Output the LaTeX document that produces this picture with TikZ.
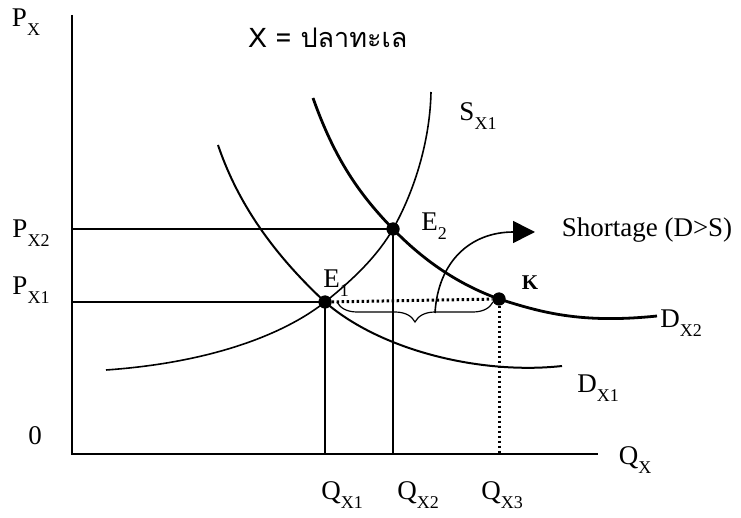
\documentclass[tikz,border=0pt]{standalone}
\usepackage{fontspec}
\setmainfont{Liberation Serif}
\newfontfamily\thaifont[Script=Thai]{Loma}
\usetikzlibrary{arrows.meta,decorations.pathreplacing}
\tikzset{
  lbl/.style={inner sep=0pt, font=\fontsize{27}{30}\selectfont},
  eqdot/.style={circle, fill=black, inner sep=0pt, minimum size=13pt},
  axis/.style={line width=2pt},
  curve/.style={line width=2pt},
  thickcurve/.style={line width=2.8pt},
  dotline/.style={line width=3pt, dash pattern=on 2.5pt off 2.5pt},
}
\newcommand{\sub}[1]{\raisebox{-0.35em}{\fontsize{18}{21}\selectfont #1}}
\begin{document}
\begin{tikzpicture}[x=1pt,y=-1pt]
\useasboundingbox (0,0) rectangle (741,518);
% axes
\coordinate (O) at (72,454);
\coordinate (Ytop) at (72,15);
\coordinate (Xend) at (598,454);
\draw[axis] (Ytop) -- (O) -- (Xend);
% equilibrium points
\node[eqdot] (E1) at (325,302) {};
\node[eqdot] (E2) at (393,229) {};
\node[eqdot] (K) at (499,299) {};
\coordinate (P2) at (72,229);
\coordinate (P1) at (72,302);
\coordinate (Q1) at (325,454);
\coordinate (Q2) at (393,454);
\coordinate (Q3) at (499,454);
% curves
\draw[curve, line width=1.6pt] (106,370) .. controls (220,362) and (290,330) .. (E1.center)
  .. controls (355,278) and (378,255) .. (E2.center)
  .. controls (415,190) and (430,140) .. (431,92);
\draw[curve] (218,145) .. controls (240,210) and (280,260) .. (E1.center)
  .. controls (380,350) and (480,375) .. (562,366);
\draw[thickcurve] (313,98) .. controls (335,160) and (360,195) .. (E2.center)
  .. controls (425,262) and (460,285) .. (K.center)
  .. controls (540,312) and (580,324) .. (657,316);
% guide lines
\draw[thickcurve] (P2) -- (E2.center);
\draw[curve] (P1) -- (E1.center);
\draw[curve] (E1.center) -- (Q1);
\draw[thickcurve] (E2.center) -- (Q2);
\draw[dotline] (E1) -- (K);
\draw[dotline] (K) -- (Q3);
% brace
\draw[line width=1.2pt, decorate, decoration={brace, mirror, amplitude=20pt}] (337,302) -- (493,302);
\coordinate (Bstart) at (435,313);
\coordinate (Atip) at (535,232);
\draw[line width=1.6pt, -{Triangle[length=22pt,width=22pt]}] (Bstart) .. controls (438,262) and (470,232) .. (Atip);
% dots on top
\node[eqdot] at (E1) {};
\node[eqdot] at (E2) {};
\node[eqdot] at (K) {};
% labels
\node[lbl] (lPx) at (26,22) {P\sub{X}};
\node[lbl] (ltitle) at (328,38) {\thaifont X = ปลาทะเล};
\node[lbl] (lPx2) at (31,233) {P\sub{X2}};
\node[lbl] (lPx1) at (31,290) {P\sub{X1}};
\node[lbl] (l0) at (35,436) {0};
\node[lbl] (lQx) at (635,460) {Q\sub{X}};
\node[lbl] (lQ1) at (342,495) {Q\sub{X1}};
\node[lbl] (lQ2) at (418,495) {Q\sub{X2}};
\node[lbl] (lQ3) at (502,495) {Q\sub{X3}};
\node[lbl] (lS) at (478,116) {S\sub{X1}};
\node[lbl] (lD2) at (681,323) {D\sub{X2}};
\node[lbl] (lD1) at (598,388) {D\sub{X1}};
\node[lbl] (lE2) at (434,226) {E\sub{2}};
\node[lbl] (lE1) at (336,283) {E\sub{1}};
\node[inner sep=0pt, font=\fontsize{21}{24}\selectfont\bfseries] (lK) at (530,283) {K};
\node[lbl] (lShort) at (647,230) {Shortage (D>S)};
\end{tikzpicture}
\end{document}
